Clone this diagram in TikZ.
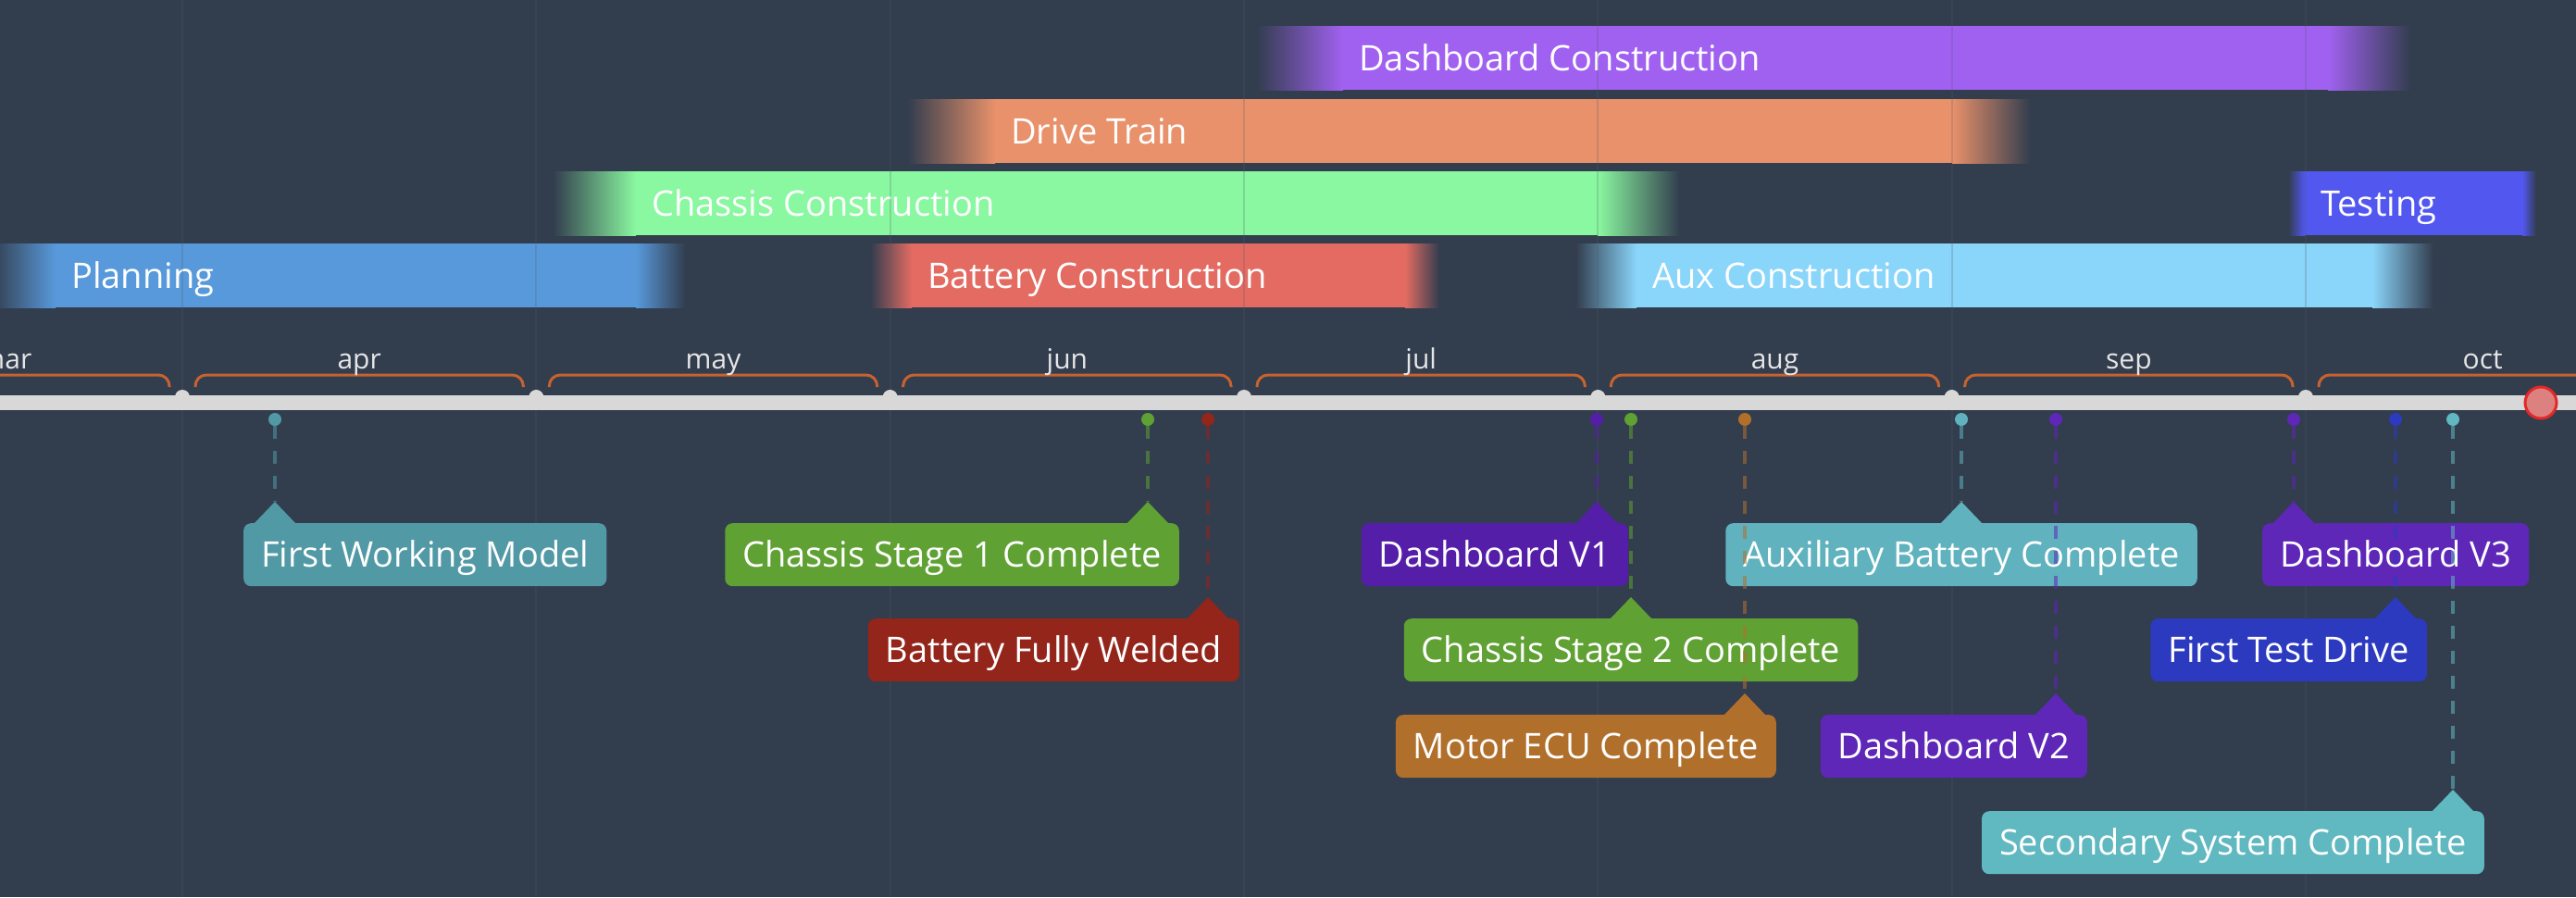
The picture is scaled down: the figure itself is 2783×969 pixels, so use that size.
\documentclass[tikz,border=0pt]{standalone}
\usepackage{fontspec}
\setmainfont{Open Sans}
\definecolor{bg}{RGB}{50,61,78}
\definecolor{gridc}{RGB}{82,92,108}
\definecolor{axisc}{RGB}{216,216,216}
\definecolor{bracec}{RGB}{200,98,46}
\definecolor{monthc}{RGB}{230,230,230}
\definecolor{dashc}{RGB}{160,97,240}
\definecolor{drivec}{RGB}{232,145,106}
\definecolor{chassisc}{RGB}{138,248,160}
\definecolor{testc}{RGB}{82,87,240}
\definecolor{planc}{RGB}{88,153,219}
\definecolor{battc}{RGB}{227,107,98}
\definecolor{auxc}{RGB}{138,213,250}
\definecolor{modelc}{RGB}{82,153,166}
\definecolor{greenc}{RGB}{95,161,51}
\definecolor{weldc}{RGB}{147,37,27}
\definecolor{dashvc}{RGB}{85,30,168}
\definecolor{dashvbc}{RGB}{94,39,184}
\definecolor{ecuc}{RGB}{176,112,44}
\definecolor{auxbc}{RGB}{95,178,190}
\definecolor{drivetc}{RGB}{44,58,192}
\definecolor{secc}{RGB}{96,184,192}
\definecolor{todayc}{RGB}{226,40,40}
\newcommand{\phase}[8]{%
  \shade[left color=bg, right color=#2] (#3,#7) rectangle (#4,#7+69);
  \fill[#2] (#4,#7) rectangle (#5,#7+69);
  \shade[left color=#2, right color=bg] (#5,#7) rectangle (#6,#7+69);
  \node[phaselabel] (#1) at (#4+17,#7+34.5) {#8};
}
\newcommand{\milestone}[7]{%
  \node[mdot, fill=#2] (#1-dot) at (#3,453) {};
  \fill[#2] (#3,#4-23) coordinate (#1-tip) -- (#3+23,#4+1) -- (#3-23,#4+1) -- cycle;
  \node[mbox, fill=#2, anchor=#5] (#1) at (#6,#4) {#7};
}

\begin{document}
\begin{tikzpicture}[x=1pt, y=-1pt,
  phaselabel/.style={anchor=west, inner sep=0pt, text height=27pt, text depth=0pt, text=white, font=\fontsize{38}{40}\selectfont},
  mbox/.style={rounded corners=8pt, inner xsep=19pt, inner ysep=20.5pt, text height=27pt, text depth=0pt, text=white, font=\fontsize{38}{40}\selectfont},
  mdot/.style={circle, inner sep=0pt, minimum size=14pt},
  mline/.style={line width=3.5pt, dash pattern=on 14pt off 13pt, opacity=0.55},
  monthlabel/.style={anchor=base, inner sep=0pt, text=monthc, font=\fontsize{30}{32}\selectfont}]
\clip (0,0) rectangle (2783,969);
\fill[bg] (0,0) rectangle (2783,969);

\phase{dashboard}{dashc}{1357}{1451}{2515}{2605}{28}{Dashboard Construction}
\phase{drivetrain}{drivec}{980}{1075}{2109}{2194}{107}{Drive Train}
\phase{chassis}{chassisc}{597}{687}{1726}{1815}{185}{Chassis Construction}
\phase{testing}{testc}{2472}{2490}{2725}{2740}{185}{Testing}
\phase{planning}{planc}{-10}{60}{687}{741}{263}{Planning}
\phase{battery}{battc}{940}{985}{1518}{1555}{263}{Battery Construction}
\phase{aux}{auxc}{1702}{1768}{2563}{2629}{263}{Aux Construction}

\foreach \k in {0,...,6}{
  \pgfmathsetmacro\bx{197+382.33*\k}
  \draw[gridc, line width=2pt, opacity=0.22] (\bx,0) -- (\bx,969);
}
\draw[axisc, line width=16pt] (0,435) -- (2783,435);
\foreach \k/\mon in {-1/mar,0/apr,1/may,2/jun,3/jul,4/aug,5/sep,6/oct}{
  \pgfmathsetmacro\bx{197+382.33*\k}
  \draw[bracec, line width=3pt, rounded corners=12pt] (\bx+14,418) -- (\bx+14,405) -- (\bx+368.33,405) -- (\bx+368.33,418);
  \node[monthlabel] (\mon) at (\bx+191.2,398) {\mon};
  \fill[axisc] (\bx,429) circle (8);
}
\node[circle, minimum size=34pt, inner sep=0pt, fill=todayc!50!axisc, draw=todayc, line width=3pt] (today) at (2745,435) {};

\milestone{model}{modelc}{297}{565}{north west}{263}{First Working Model}
\milestone{chassisA}{greenc}{1240}{565}{north east}{1274}{Chassis Stage 1 Complete}
\milestone{weld}{weldc}{1305}{668}{north east}{1339}{Battery Fully Welded}
\milestone{dashA}{dashvc}{1725}{565}{north east}{1759}{Dashboard V1}
\milestone{chassisB}{greenc}{1762}{668}{north}{1762}{Chassis Stage 2 Complete}
\milestone{ecu}{ecuc}{1885}{772}{north east}{1919}{Motor ECU Complete}
\milestone{auxbatt}{auxbc}{2119}{565}{north}{2119}{Auxiliary Battery Complete}
\milestone{dashB}{dashvbc}{2221}{772}{north east}{2255}{Dashboard V2}
\milestone{dashC}{dashvbc}{2478}{565}{north west}{2444}{Dashboard V3}
\milestone{drive}{drivetc}{2588}{668}{north east}{2622}{First Test Drive}
\milestone{second}{secc}{2650}{876}{north east}{2684}{Secondary System Complete}

\foreach \m/\c in {model/modelc, chassisA/greenc, weld/weldc, dashA/dashvc, chassisB/greenc, ecu/ecuc, auxbatt/auxbc, dashB/dashvbc, dashC/dashvbc, drive/drivetc, second/secc}
  \draw[mline, draw=\c] (\m-dot) -- (\m-tip);
\end{tikzpicture}
\end{document}
